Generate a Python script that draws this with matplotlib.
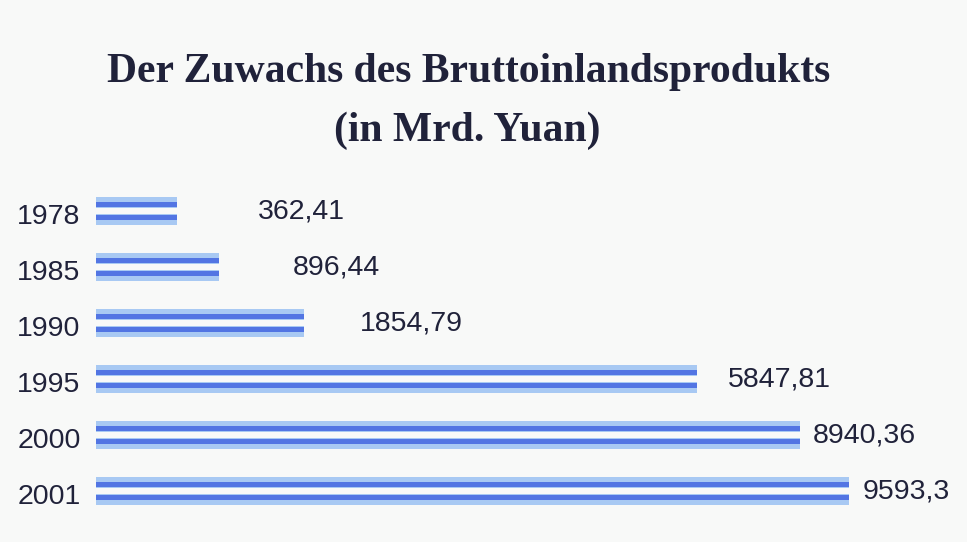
"""
Bar chart: Der Zuwachs des Bruttoinlandsprodukts (in Mrd. Yuan).
Each year is drawn as a pair of thin striped bars.
"""

import numpy as np
import matplotlib.pyplot as plt
import matplotlib.transforms as mtrans

years = ['1978', '1985', '1990', '1995', '2000', '2001']
gdp = [362.41, 896.44, 1854.79, 5847.81, 8940.36, 9593.3]
gdp_labels = ['362,41', '896,44', '1854,79', '5847,81', '8940,36', '9593,3']

# the original bars are not drawn to a linear scale, so the x axis
# uses a scale that follows the drawn lengths (in px) of the original
drawn_length = [81, 123, 208, 601, 704, 753]
knots_x = np.array([0] + gdp)
knots_px = np.array([0] + drawn_length, dtype=float)


def forward(x):
    return np.interp(x, knots_x, knots_px)


def inverse(p):
    return np.interp(p, knots_px, knots_x)


# gap in px between bar end and value label
label_pad = [81, 74, 56, 31, 13, 14]

W, H = 967, 542
fig = plt.figure(figsize=(W / 100, H / 100), dpi=100)
fig.patch.set_facecolor('#f8f9f8')

# axes from bar start (x=96px) to end of the longest bar (x=849px)
left_px, right_px = 96, 849
top_px, bottom_px = 183, 519
ax = fig.add_axes([left_px / W, 1 - bottom_px / H,
                   (right_px - left_px) / W, (bottom_px - top_px) / H])
ax.set_facecolor('none')
ax.set_xscale('function', functions=(forward, inverse))
ax.set_xlim(0, gdp[-1])
ax.set_ylim(len(years) - 0.5, -0.5)

light = '#a8c9f3'
dark = '#5275e3'
y = np.arange(len(years))
off = 0.152      # stripe centre offset from category centre
h_light = 0.20
h_dark = 0.095
for sign in (-1, 1):
    ax.barh(y + sign * off, gdp, height=h_light, left=0, color=light,
            edgecolor='none')
    ax.barh(y + sign * (off - 0.03), gdp, height=h_dark, left=0, color=dark,
            edgecolor='none')

txt = '#20223a'
for i, (v, lab) in enumerate(zip(gdp, gdp_labels)):
    ax.annotate(lab, xy=(v, i), xytext=(label_pad[i] * 0.72, 0),
                textcoords='offset points', ha='left', va='center',
                fontsize=20.5, color=txt, family='Liberation Sans')

ax.set_yticks(y)
ax.set_yticklabels(years, fontsize=20.5, color=txt, family='Liberation Sans')
ax.tick_params(axis='y', length=0, pad=11)
ax.tick_params(axis='x', bottom=False, labelbottom=False)
# move year labels a little below the bar centre
shift = mtrans.ScaledTranslation(0, -3.5 / 100, fig.dpi_scale_trans)
for t in ax.get_yticklabels():
    t.set_transform(t.get_transform() + shift)
for s in ax.spines.values():
    s.set_visible(False)

fig.text(469 / W, 1 - 72 / H, 'Der Zuwachs des Bruttoinlandsprodukts',
         ha='center', va='center', fontsize=30, fontweight='bold',
         family='Liberation Serif', color=txt)
fig.text(467 / W, 1 - 131 / H, '(in Mrd. Yuan)',
         ha='center', va='center', fontsize=30, fontweight='bold',
         family='Liberation Serif', color=txt)

fig.savefig('out.png', dpi=100, facecolor=fig.get_facecolor())
